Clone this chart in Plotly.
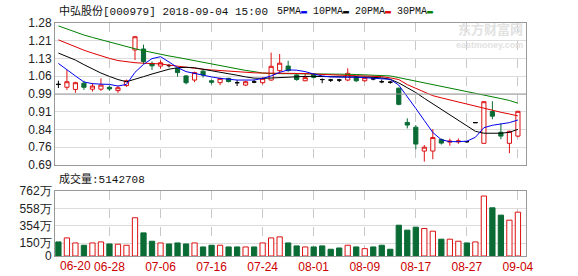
import plotly.graph_objects as go

dates = ["06-20","06-21","06-22","06-25","06-26","06-27","06-28","06-29",
         "07-02","07-03","07-04","07-05","07-06","07-09","07-10","07-11","07-12","07-13",
         "07-16","07-17","07-18","07-19","07-20","07-23","07-24","07-25","07-26","07-27",
         "07-30","07-31","08-01","08-02","08-03","08-06","08-07","08-08","08-09","08-10",
         "08-13","08-14","08-15","08-16","08-17","08-20","08-21","08-22","08-23","08-24",
         "08-27","08-28","08-29","08-30","08-31","09-03","09-04"]

opens = [1.025,1.013,1.004,1.030,1.005,1.005,1.013,0.999,1.020,1.168,1.172,1.112,1.101,1.103,
         1.092,1.060,1.043,1.080,1.040,1.032,1.050,1.032,1.022,1.035,1.032,1.043,1.082,1.101,
         1.064,1.040,1.068,1.045,1.043,1.043,1.043,1.057,1.040,1.048,1.036,1.034,1.009,0.867,
         0.847,0.748,0.748,0.796,0.785,0.786,0.787,0.866,0.780,0.912,0.826,0.780,0.810]
highs = [1.040,1.085,1.036,1.040,1.030,1.050,1.020,1.020,1.045,1.226,1.190,1.120,1.125,1.110,
         1.095,1.063,1.078,1.085,1.045,1.052,1.052,1.043,1.040,1.045,1.055,1.157,1.151,1.123,
         1.066,1.070,1.070,1.050,1.048,1.048,1.092,1.060,1.058,1.055,1.045,1.040,1.012,0.884,
         0.856,0.773,0.839,0.800,0.800,0.800,0.790,0.866,0.955,0.955,0.863,0.832,0.915]
lows = [1.010,1.002,0.990,1.002,0.995,0.998,0.998,0.990,1.015,1.126,1.110,1.085,1.090,1.095,
        1.057,1.025,1.034,1.053,1.025,1.022,1.033,1.018,1.018,1.030,1.025,1.040,1.071,1.078,
        1.040,1.038,1.050,1.030,1.035,1.035,1.038,1.035,1.036,1.042,1.030,1.028,0.938,0.842,
        0.755,0.704,0.714,0.775,0.770,0.778,0.782,0.866,0.779,0.880,0.797,0.739,0.805]
closes = [1.025,1.036,1.032,1.013,1.018,1.022,1.006,1.011,1.040,1.223,1.120,1.102,1.115,1.103,
          1.074,1.032,1.074,1.064,1.034,1.050,1.037,1.032,1.036,1.035,1.050,1.100,1.113,1.082,
          1.045,1.053,1.054,1.045,1.043,1.043,1.071,1.040,1.053,1.048,1.036,1.034,0.942,0.856,
          0.777,0.764,0.804,0.781,0.789,0.790,0.787,0.866,0.953,0.893,0.810,0.830,0.913]

ma5 = [1.112,1.085,1.060,1.035,1.028,1.026,1.025,1.018,1.025,1.075,1.108,1.132,1.140,1.118,
       1.095,1.078,1.070,1.062,1.056,1.050,1.045,1.043,1.043,1.043,1.050,1.060,1.075,1.085,
       1.084,1.078,1.068,1.060,1.056,1.054,1.055,1.055,1.053,1.051,1.050,1.046,1.022,0.976,
       0.925,0.875,0.825,0.795,0.787,0.787,0.789,0.805,0.845,0.855,0.860,0.866,0.877]
ma10 = [1.155,1.140,1.126,1.107,1.088,1.072,1.058,1.045,1.036,1.045,1.057,1.068,1.078,1.088,
        1.094,1.096,1.094,1.088,1.082,1.078,1.070,1.063,1.056,1.051,1.050,1.052,1.055,1.057,
        1.058,1.058,1.058,1.058,1.057,1.057,1.057,1.056,1.055,1.054,1.052,1.046,1.031,1.011,
        0.991,0.967,0.944,0.920,0.897,0.874,0.851,0.830,0.822,0.821,0.822,0.826,0.838]
ma20 = [1.210,1.195,1.182,1.167,1.155,1.143,1.133,1.124,1.118,1.115,1.113,1.112,1.110,1.105,
        1.100,1.096,1.092,1.088,1.085,1.082,1.079,1.077,1.075,1.073,1.072,1.072,1.073,1.072,
        1.071,1.070,1.068,1.066,1.064,1.063,1.062,1.061,1.060,1.059,1.057,1.052,1.045,1.024,
        1.008,0.992,0.978,0.969,0.960,0.951,0.943,0.935,0.927,0.917,0.909,0.902,0.894]
ma30 = [1.268,1.255,1.243,1.230,1.220,1.210,1.200,1.191,1.182,1.173,1.165,1.157,1.150,1.143,
        1.137,1.130,1.122,1.115,1.108,1.101,1.095,1.089,1.083,1.078,1.072,1.070,1.070,1.070,
        1.070,1.070,1.070,1.069,1.069,1.068,1.067,1.066,1.065,1.064,1.063,1.060,1.053,1.046,
        1.039,1.031,1.023,1.016,1.009,1.002,0.995,0.989,0.981,0.974,0.966,0.958,0.947]

volume_wan = [165,212,153,126,153,165,141,138,126,448,271,173,153,141,153,141,153,106,126,126,
              106,106,106,106,153,212,224,153,118,106,106,118,79,94,126,106,86,106,126,79,
              361,303,338,322,291,197,197,173,153,165,703,565,479,420,514]
volume_ticks = [0, 150, 354, 558, 762]
price_tick_labels = ["1.28","1.21","1.13","1.06","0.99","0.91","0.84","0.76","0.69"]

RED = "#dd1111"
GREEN = "#0a6b35"
n = len(dates)
x = list(range(n))

def direction(i):
    if closes[i] > opens[i]:
        return 1
    if closes[i] < opens[i]:
        return -1
    return 0

dirs = [direction(i) for i in range(n)]

def vol_up(i):
    if dirs[i] != 0:
        return dirs[i] > 0
    return i > 0 and closes[i] > closes[i - 1]

def subset(arr, d):
    return [arr[i] if dirs[i] == d else None for i in range(n)]

fig = go.Figure()
for d, lc, fc in [(1, RED, "white"), (-1, GREEN, GREEN), (0, "black", "black")]:
    fig.add_trace(go.Candlestick(
        x=x, open=subset(opens, d), high=subset(highs, d), low=subset(lows, d),
        close=subset(closes, d), xaxis="x", yaxis="y",
        increasing=dict(line=dict(color=lc, width=1), fillcolor=fc),
        decreasing=dict(line=dict(color=lc, width=1), fillcolor=fc),
        whiskerwidth=0, showlegend=False, hoverinfo="skip"))

for vals, col in [(ma30, "#008000"), (ma20, "#e00000"), (ma10, "#000000"), (ma5, "#0000ee")]:
    fig.add_trace(go.Scatter(x=x, y=vals, mode="lines", line=dict(color=col, width=1),
                             xaxis="x", yaxis="y", showlegend=False, hoverinfo="skip"))

ups = [vol_up(i) for i in range(n)]
fig.add_trace(go.Bar(
    x=x, y=volume_wan, xaxis="x2", yaxis="y2", width=0.62,
    marker=dict(color=["white" if u else GREEN for u in ups],
                line=dict(color=[RED if u else GREEN for u in ups], width=1)),
    showlegend=False, hoverinfo="skip"))

L, R, T, B = 55, 52, 23, 20
W, H = 578, 276
ph = H - T - B
def px_x(p):
    return (p - L) / (W - L - R)
def px_y(p):
    return (H - B - p) / ph

pmin, pmax = 0.69, 1.28
ptick_vals = [pmax - k * (pmax - pmin) / (len(price_tick_labels) - 1) for k in range(len(price_tick_labels))]
xr = [-0.4, n - 0.05]
tick_idx = list(range(6, n, 6))
font = dict(family="Liberation Sans, Arial", size=12, color="#222")
xfont = dict(family="Liberation Sans, Arial", size=12, color="#cc0000")

fig.update_layout(
    width=W, height=H, margin=dict(l=L, r=R, t=T, b=B, autoexpand=False),
    paper_bgcolor="white", plot_bgcolor="white",
    xaxis=dict(domain=[0, 1], range=xr, anchor="y", showticklabels=False, automargin=False,
               tickvals=tick_idx, showgrid=True, gridcolor="#c8c8c8", griddash="dash",
               gridwidth=1, zeroline=False, showline=True, mirror=True,
               linecolor="#999", linewidth=1, rangeslider=dict(visible=False), ticks=""),
    yaxis=dict(domain=[px_y(165), 1], range=[pmin, pmax], tickvals=ptick_vals, automargin=False,
               ticktext=price_tick_labels, showgrid=True, gridcolor="#dcdcdc", zeroline=False,
               showline=True, mirror=True, linecolor="#999", linewidth=1, ticks="",
               tickfont=font),
    xaxis2=dict(domain=[0, 1], range=xr, anchor="y2", tickvals=tick_idx, automargin=False,
                ticktext=[dates[i] for i in tick_idx], showgrid=True, gridcolor="#c8c8c8",
                griddash="dash", zeroline=False, showline=True, mirror=True, linecolor="#999",
                linewidth=1, ticks="", tickfont=xfont),
    yaxis2=dict(domain=[0, px_y(191)], range=[0, volume_ticks[-1]], tickvals=volume_ticks,
                ticktext=[("%d万" % v) if v else "0" for v in volume_ticks], showgrid=True,
                gridcolor="#dcdcdc", zeroline=False, showline=True, mirror=True, automargin=False,
                linecolor="#999", linewidth=1, ticks="", tickfont=font),
)

fig.add_shape(type="line", xref="x domain", yref="y", x0=0, x1=1,
              y0=(pmin + pmax) / 2, y1=(pmin + pmax) / 2, line=dict(color="#999", width=1))

ann_font = dict(family="Liberation Mono, Noto Sans CJK SC", size=11, color="#111")
fig.add_annotation(xref="paper", yref="paper", x=px_x(57), y=px_y(11), xanchor="left",
                   yanchor="middle", showarrow=False, font=ann_font,
                   text="中弘股份[000979] 2018-09-04 15:00")
legend_txt = ("5PMA<span style='color:#0000ee'>▬</span> 10PMA<span style='color:#000'>▬</span> "
              "20PMA<span style='color:#e00000'>▬</span> 30PMA<span style='color:#008000'>▬</span>")
fig.add_annotation(xref="paper", yref="paper", x=px_x(275), y=px_y(11), xanchor="left",
                   yanchor="middle", showarrow=False, font=dict(family="Liberation Mono", size=10, color="#111"),
                   text=legend_txt)
fig.add_annotation(xref="paper", yref="paper", x=px_x(57), y=px_y(179), xanchor="left",
                   yanchor="middle", showarrow=False, font=ann_font,
                   text="成交量:%d" % 5142708)
fig.add_annotation(xref="x2", yref="paper", x=0, y=px_y(266), xanchor="left", yanchor="middle",
                   showarrow=False, text=dates[0], font=xfont)
fig.add_annotation(xref="paper", yref="paper", x=px_x(525), y=px_y(29), xanchor="right",
                   yanchor="middle", showarrow=False, text="<b>东方财富网</b>",
                   font=dict(family="Noto Sans CJK SC", size=13, color="#e2e2e2"))
fig.add_annotation(xref="paper", yref="paper", x=px_x(525), y=px_y(45), xanchor="right",
                   yanchor="middle", showarrow=False, text="<b>eastmoney.com</b>",
                   font=dict(family="Liberation Sans", size=9, color="#e2e2e2"))

fig.write_html("out.html")
